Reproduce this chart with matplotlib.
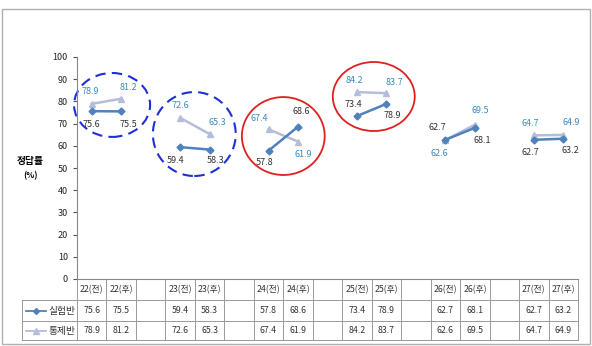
import matplotlib
matplotlib.use("Agg")
import matplotlib.pyplot as plt
from matplotlib.patches import Ellipse, Rectangle

plt.rcParams['font.family'] = ['Noto Sans CJK KR', 'DejaVu Sans']

# data
categories = ['22(전)', '22(후)', '', '23(전)', '23(후)', '', '24(전)', '24(후)', '',
              '25(전)', '25(후)', '', '26(전)', '26(후)', '', '27(전)', '27(후)']
exp_vals = [75.6, 75.5, 59.4, 58.3, 57.8, 68.6, 73.4, 78.9, 62.7, 68.1, 62.7, 63.2]
ctl_vals = [78.9, 81.2, 72.6, 65.3, 67.4, 61.9, 84.2, 83.7, 62.6, 69.5, 64.7, 64.9]
series_names = ['실험반', '통제반']

# label offsets (pixels) for each point
exp_off = [(0, -13), (7, -13), (-5, -13), (6, -11), (-4, -12), (3, 15),
           (-4, 12), (6, -12), (-8, 12), (7, -13), (-3, -13), (7, -12)]
ctl_off = [(-1, 12), (7, 11), (0, 12), (8, 12), (-9, 11), (5, -13),
           (-3, 12), (8, 11), (-6, -13), (5, 14), (-4, 12), (8, 12)]

c_exp = '#4F81BD'
c_ctl = '#B4BEDA'
c_exp_txt = '#333333'
c_ctl_txt = '#3A8CC0'

fig = plt.figure(figsize=(5.92, 3.46), dpi=100)
fig.patches.append(Rectangle((2/592, 2/346), 588/592, 335/346, transform=fig.transFigure,
                             fill=False, edgecolor='#B0B0B0', lw=1.0))
ax = fig.add_axes([77/592, 1 - 279/346, 501/592, 222/346])
ax.set_xlim(0, len(categories))
ax.set_ylim(0, 100)
ax.set_yticks(range(0, 101, 10))
ax.tick_params(axis='y', labelsize=6.5, length=3, colors='#555555', labelcolor='#222222')
ax.set_xticks([])
for s in ['top', 'right']:
    ax.spines[s].set_visible(False)
ax.spines['left'].set_color('#888888')
ax.spines['bottom'].set_color('#888888')
ax.spines['left'].set_linewidth(0.8)
ax.spines['bottom'].set_linewidth(0.8)

# x positions of the non-blank columns
xs = [i + 0.5 for i, c in enumerate(categories) if c != '']

for g in range(len(xs) // 2):
    sl = slice(2 * g, 2 * g + 2)
    ax.plot(xs[sl], ctl_vals[sl], color=c_ctl, lw=1.8, marker='^', ms=5, zorder=3)
    ax.plot(xs[sl], exp_vals[sl], color=c_exp, lw=1.8, marker='D', ms=3.5, zorder=4)

for x, v, o in zip(xs, exp_vals, exp_off):
    ax.annotate('%.1f' % v, (x, v), xytext=o, textcoords='offset pixels',
                ha='center', va='center', fontsize=6.5, color=c_exp_txt)
for x, v, o in zip(xs, ctl_vals, ctl_off):
    ax.annotate('%.1f' % v, (x, v), xytext=o, textcoords='offset pixels',
                ha='center', va='center', fontsize=6.5, color=c_ctl_txt)

# circles
ax.add_patch(Ellipse((1.19, 78.4), 2.58, 28.8, fill=False, ec='#1F2FD8', lw=1.5, ls=(0, (5, 3)), clip_on=False))
ax.add_patch(Ellipse((3.98, 65.3), 2.81, 37.8, fill=False, ec='#1F2FD8', lw=1.5, ls=(0, (5, 3)), clip_on=False))
ax.add_patch(Ellipse((7.0, 64.4), 2.81, 35.1, fill=False, ec='#E02020', lw=1.3, clip_on=False))
ax.add_patch(Ellipse((10.07, 82.2), 2.78, 31.1, fill=False, ec='#E02020', lw=1.3, clip_on=False))

# y label
fig.text(30/592, 1 - 161/346, '정답률', ha='center', va='center', fontsize=7, fontweight='bold')
fig.text(30/592, 1 - 176/346, '(%)', ha='center', va='center', fontsize=6, fontweight='bold')

# data table under the axis
n = len(categories)
y_rows = [0, -9.5, -19, -27.5]
x_left = -1.86
lc = '#999999'
kw = dict(color=lc, lw=0.7, clip_on=False)
for i in range(n + 1):
    ax.plot([i, i], [0, y_rows[-1]], **kw)
ax.plot([x_left, x_left], [y_rows[1], y_rows[-1]], **kw)
ax.plot([0, n], [0, 0], **kw)
for y in y_rows[1:]:
    ax.plot([x_left, n], [y, y], **kw)

for i, c in enumerate(categories):
    ax.text(i + 0.5, (y_rows[0] + y_rows[1]) / 2, c, ha='center', va='center', fontsize=6.3, color='#333333')
for x, v in zip(xs, exp_vals):
    ax.text(x, (y_rows[1] + y_rows[2]) / 2, '%.1f' % v, ha='center', va='center', fontsize=6.3, color='#333333')
for x, v in zip(xs, ctl_vals):
    ax.text(x, (y_rows[2] + y_rows[3]) / 2, '%.1f' % v, ha='center', va='center', fontsize=6.3, color='#333333')

# legend keys inside the row label cells
for r, (name, col, mk, ms) in enumerate([(series_names[0], c_exp, 'D', 3), (series_names[1], c_ctl, '^', 4)]):
    yc = (y_rows[r + 1] + y_rows[r + 2]) / 2
    ax.plot([x_left + 0.12, x_left + 0.82], [yc, yc], color=col, lw=1.3, clip_on=False)
    ax.plot([x_left + 0.47], [yc], color=col, marker=mk, ms=ms, clip_on=False)
    ax.text(x_left + 0.88, yc, name, ha='left', va='center', fontsize=7, color='#333333')

fig.savefig('out.png', dpi=100)
